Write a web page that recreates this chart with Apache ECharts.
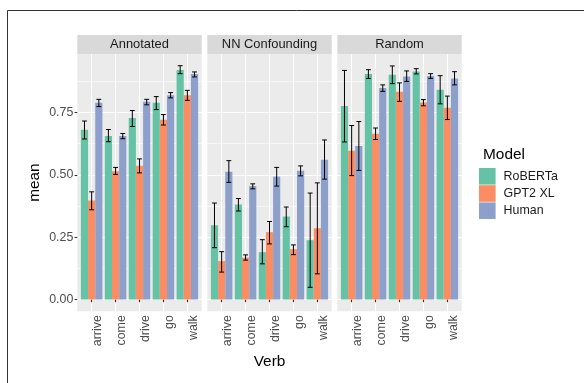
<!DOCTYPE html>
<html>
<head>
<meta charset="utf-8">
<script src="https://cdn.jsdelivr.net/npm/echarts@6/dist/echarts.min.js"></script>
<style>
  html, body { margin: 0; padding: 0; background: #ffffff; }
  #chart { width: 584px; height: 383px; }
</style>
</head>
<body>
<div id="chart"></div>
<script>
// ---- data -------------------------------------------------------------
const verbs = ['arrive', 'come', 'drive', 'go', 'walk'];
const panels = ['Annotated', 'NN Confounding', 'Random'];
const models = ['RoBERTa', 'GPT2 XL', 'Human'];
const yTicks = [0, 0.25, 0.5, 0.75];
const yMinorTicks = [0.125, 0.375, 0.625, 0.875];

// mean per verb, and [low, high] of the error bar
const annotatedRoberta = [0.681, 0.656, 0.728, 0.789, 0.921];
const annotatedRobertaCI = [[0.644, 0.716], [0.633, 0.682], [0.694, 0.758], [0.762, 0.814], [0.906, 0.938]];
const annotatedGpt2 = [0.397, 0.515, 0.537, 0.721, 0.819];
const annotatedGpt2CI = [[0.360, 0.432], [0.502, 0.530], [0.508, 0.564], [0.700, 0.742], [0.799, 0.839]];
const annotatedHuman = [0.789, 0.656, 0.793, 0.819, 0.905];
const annotatedHumanCI = [[0.774, 0.803], [0.645, 0.666], [0.781, 0.803], [0.809, 0.830], [0.893, 0.913]];

const nnRoberta = [0.298, 0.381, 0.190, 0.333, 0.238];
const nnRobertaCI = [[0.208, 0.387], [0.355, 0.405], [0.143, 0.240], [0.292, 0.371], [0.049, 0.427]];
const nnGpt2 = [0.154, 0.168, 0.270, 0.202, 0.286];
const nnGpt2CI = [[0.110, 0.192], [0.158, 0.179], [0.223, 0.313], [0.180, 0.219], [0.103, 0.468]];
const nnHuman = [0.513, 0.455, 0.493, 0.517, 0.561];
const nnHumanCI = [[0.470, 0.557], [0.444, 0.464], [0.455, 0.530], [0.496, 0.536], [0.483, 0.640]];

const randomRoberta = [0.776, 0.905, 0.902, 0.915, 0.841];
const randomRobertaCI = [[0.632, 0.919], [0.887, 0.922], [0.866, 0.937], [0.905, 0.926], [0.785, 0.898]];
const randomGpt2 = [0.597, 0.665, 0.833, 0.790, 0.769];
const randomGpt2CI = [[0.497, 0.698], [0.642, 0.688], [0.795, 0.869], [0.777, 0.802], [0.722, 0.816]];
const randomHuman = [0.616, 0.849, 0.895, 0.897, 0.887];
const randomHumanCI = [[0.518, 0.714], [0.835, 0.861], [0.875, 0.917], [0.887, 0.906], [0.861, 0.914]];

const panelSeries = [
  [[annotatedRoberta, annotatedRobertaCI], [annotatedGpt2, annotatedGpt2CI], [annotatedHuman, annotatedHumanCI]],
  [[nnRoberta, nnRobertaCI], [nnGpt2, nnGpt2CI], [nnHuman, nnHumanCI]],
  [[randomRoberta, randomRobertaCI], [randomGpt2, randomGpt2CI], [randomHuman, randomHumanCI]]
];

// ---- look -------------------------------------------------------------
const colors = ['#66C2A5', '#FC8D62', '#8DA0CB'];
const FONT = '"Liberation Sans", Arial, Helvetica, sans-serif';
const W = 584, H = 383;
const PANEL_LEFT = [77.3, 207.3, 337.3];
const PANEL_W = 124.4;
const PLOT_TOP = 54;
const PLOT_BOTTOM = 311.2;
const STRIP_H = 19;
const X_EXPAND = 0.6;   // discrete axis padding, in categories
const BAR_SPAN = 0.9;   // dodged group width, in categories

// value range padded by 5% on both sides
let hiMax = 0;
panelSeries.forEach(p => p.forEach(s => s[1].forEach(ci => { hiMax = Math.max(hiMax, ci[1]); })));
const Y_MIN = -0.05 * hiMax;
const Y_MAX = 1.05 * hiMax;

// a panel holds n category centres plus the padding on each side
const step = PANEL_W / (verbs.length - 1 + 2 * X_EXPAND);
const innerPad = (X_EXPAND - 0.5) * step;

const grid = [], xAxis = [], yAxis = [], series = [];

// grids 0..2: grey panels with grid lines; grids 3..5: the bars
panels.forEach((name, p) => {
  grid.push({
    left: PANEL_LEFT[p], top: PLOT_TOP, width: PANEL_W, height: PLOT_BOTTOM - PLOT_TOP,
    show: true, backgroundColor: '#EBEBEB', borderWidth: 0
  });
});
panels.forEach((name, p) => {
  grid.push({
    left: PANEL_LEFT[p] + innerPad, top: PLOT_TOP, width: PANEL_W - 2 * innerPad, height: PLOT_BOTTOM - PLOT_TOP,
    show: false
  });
});

// x axes: the panel ones carry the vertical grid lines at category centres
panels.forEach((name, p) => {
  xAxis.push({
    type: 'value', gridIndex: p,
    min: 1 - X_EXPAND, max: verbs.length + X_EXPAND,
    axisLine: { show: false },
    axisTick: { show: false, customValues: verbs.map((v, i) => i + 1) },
    axisLabel: { show: false },
    splitLine: { show: true, lineStyle: { color: '#FFFFFF', width: 1.07 } }
  });
});
panels.forEach((name, p) => {
  xAxis.push({
    type: 'category', gridIndex: 3 + p, data: verbs,
    axisLine: { show: false },
    axisTick: { show: true, alignWithLabel: true, length: 2.7, lineStyle: { color: '#333333', width: 1.07 } },
    axisLabel: {
      rotate: 90, margin: 4, verticalAlign: 'top', align: 'right',
      color: '#4D4D4D', fontSize: 12.4, fontFamily: FONT
    },
    splitLine: { show: false },
    name: p === 1 ? 'Verb' : '',
    nameLocation: 'middle', nameGap: 36,
    nameTextStyle: { color: '#000000', fontSize: 15.4, fontFamily: FONT, verticalAlign: 'top' }
  });
});

// y axes: major lines (labels on the first panel), minor lines, bar scales
panels.forEach((name, p) => {
  yAxis.push({
    type: 'value', gridIndex: p, min: Y_MIN, max: Y_MAX,
    axisLine: { show: false },
    axisTick: { show: p === 0, customValues: yTicks, length: 2.7, lineStyle: { color: '#333333', width: 1.07 } },
    axisLabel: {
      show: p === 0, customValues: yTicks, margin: 4,
      formatter: v => v.toFixed(2), color: '#4D4D4D', fontSize: 12.4, fontFamily: FONT
    },
    splitLine: { show: true, lineStyle: { color: '#FFFFFF', width: 1.07 } },
    name: p === 0 ? 'mean' : '',
    nameLocation: 'middle', nameGap: 35, nameRotate: 90,
    nameTextStyle: { color: '#000000', fontSize: 15.4, fontFamily: FONT }
  });
});
panels.forEach((name, p) => {
  yAxis.push({
    type: 'value', gridIndex: p, min: Y_MIN, max: Y_MAX,
    axisLine: { show: false },
    axisTick: { show: false, customValues: yMinorTicks },
    axisLabel: { show: false },
    splitLine: { show: true, lineStyle: { color: '#FFFFFF', width: 0.6 } }
  });
});
panels.forEach((name, p) => {
  yAxis.push({
    type: 'value', gridIndex: 3 + p, min: Y_MIN, max: Y_MAX,
    show: false, splitLine: { show: false }
  });
});

// dodged bars with error bars on top
panels.forEach((name, p) => {
  models.forEach((model, m) => {
    const means = panelSeries[p][m][0];
    series.push({
      type: 'bar', name: model, xAxisIndex: 3 + p, yAxisIndex: 6 + p,
      data: means, barGap: '0%', barCategoryGap: ((1 - BAR_SPAN) * 100) + '%',
      itemStyle: { color: colors[m] }, emphasis: { disabled: true }, silent: true, z: 2
    });
  });
  models.forEach((model, m) => {
    const cis = panelSeries[p][m][1];
    series.push({
      type: 'custom', xAxisIndex: 3 + p, yAxisIndex: 6 + p, silent: true, z: 3, clip: false,
      data: cis.map((ci, i) => [i, ci[0], ci[1]]),
      encode: { x: 0, y: [1, 2] },
      renderItem: (params, api) => {
        const band = api.size([1, 0])[0];
        const barW = band * BAR_SPAN / models.length;
        const cx = api.coord([api.value(0), 0])[0] + (m - (models.length - 1) / 2) * barW;
        const lo = api.coord([api.value(0), api.value(1)])[1];
        const hi = api.coord([api.value(0), api.value(2)])[1];
        const half = barW * 0.34;
        const style = { stroke: '#000000', lineWidth: 1, fill: null };
        return {
          type: 'group',
          children: [
            { type: 'line', shape: { x1: cx, y1: lo, x2: cx, y2: hi }, style },
            { type: 'line', shape: { x1: cx - half, y1: lo, x2: cx + half, y2: lo }, style },
            { type: 'line', shape: { x1: cx - half, y1: hi, x2: cx + half, y2: hi }, style }
          ]
        };
      }
    });
  });
});

// facet strips and outer frame
const graphic = [];
panels.forEach((name, p) => {
  graphic.push({
    type: 'rect', left: PANEL_LEFT[p], top: PLOT_TOP - STRIP_H, silent: true,
    shape: { width: PANEL_W, height: STRIP_H }, style: { fill: '#D9D9D9' }
  });
  graphic.push({
    type: 'text', silent: true,
    x: PANEL_LEFT[p] + PANEL_W / 2, y: PLOT_TOP - STRIP_H / 2,
    style: { text: name, fill: '#1A1A1A', font: '12.9px ' + FONT, align: 'center', verticalAlign: 'middle' }
  });
});
graphic.push({
  type: 'polyline', silent: true,
  shape: { points: [[7.5, H + 2], [7.5, 10.5], [W + 2, 10.5]] },
  style: { stroke: '#333333', lineWidth: 1, fill: null }
});

const chart = echarts.init(document.getElementById('chart'), null, { renderer: 'canvas' });
chart.setOption({
  animation: false,
  backgroundColor: '#FFFFFF',
  title: {
    text: 'Model', left: 478, top: 142,
    textStyle: { color: '#000000', fontSize: 15.4, fontWeight: 'normal', fontFamily: FONT }
  },
  legend: {
    orient: 'vertical', left: 479, top: 168, padding: 0,
    itemWidth: 16.6, itemHeight: 16.6, itemGap: 0.6,
    icon: 'rect', selectedMode: false,
    data: models,
    textStyle: { color: '#1A1A1A', fontSize: 12.4, fontFamily: FONT, padding: [0, 0, 0, 3] }
  },
  grid, xAxis, yAxis, series, graphic
});
</script>
</body>
</html>
